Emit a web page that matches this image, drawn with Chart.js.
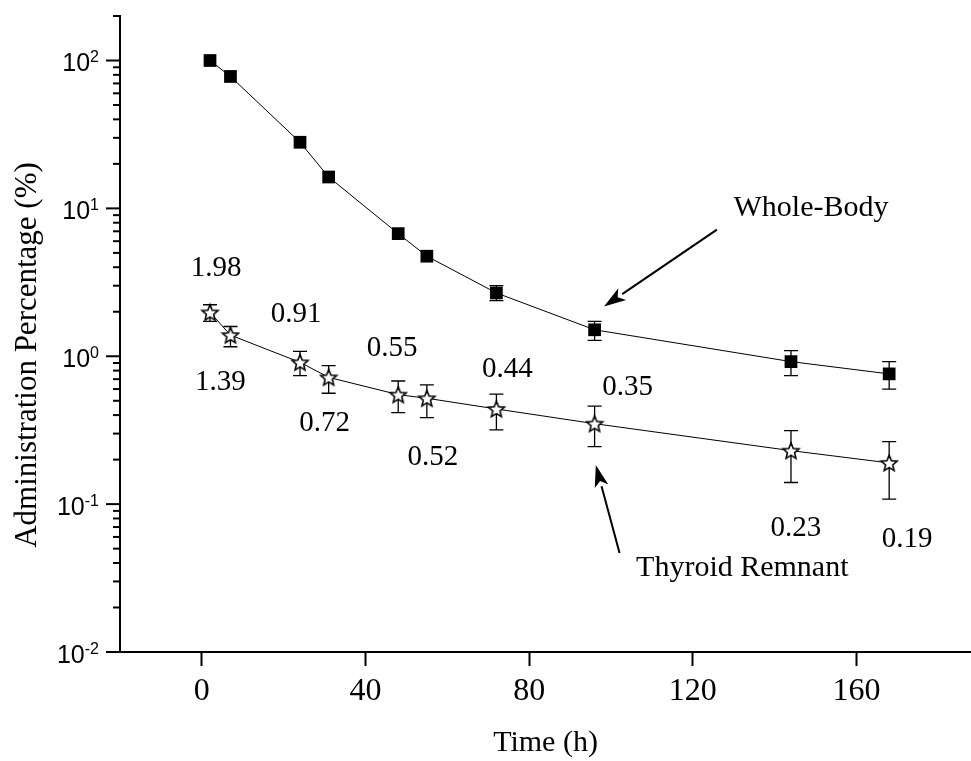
<!DOCTYPE html>
<html>
<head>
<meta charset="utf-8">
<script src="https://cdn.jsdelivr.net/npm/chart.js@4.4.0/dist/chart.umd.min.js"></script>
<style>
  html, body { margin: 0; padding: 0; background: #fff; }
  #wrap { width: 971px; height: 761px; }
</style>
</head>
<body>
<div id="wrap"><canvas id="uptakeChart" width="971" height="761"></canvas></div>
<script>
// time points (h)
var times = [2, 7, 24, 31, 48, 55, 72, 96, 144, 168];

// whole-body retention (%), with error bar ends (null = hidden under marker)
var wholeBody = [100, 78, 28, 16.3, 6.75, 4.75, 2.68, 1.51, 0.92, 0.76];
var wholeBodyUpper = [null, null, null, null, null, null, 3.0, 1.72, 1.09, 0.92];
var wholeBodyLower = [null, null, null, null, null, null, 2.38, 1.28, 0.74, 0.6];

// thyroid remnant (%), with error bar ends
var thyroid = [1.98, 1.39, 0.91, 0.72, 0.55, 0.52, 0.44, 0.35, 0.23, 0.19];
var thyroidUpper = [2.23, 1.59, 1.08, 0.865, 0.68, 0.64, 0.555, 0.46, 0.314, 0.265];
var thyroidLower = [1.72, 1.16, 0.74, 0.562, 0.416, 0.385, 0.318, 0.245, 0.14, 0.108];

var xTicks = [0, 40, 80, 120, 160];
var yDecades = [-2, -1, 0, 1, 2];

var annotations = [
  { text: 'Whole-Body', at: [148.9, 10.06], tail: [125.9, 7.18], tip: [98.3, 2.17] },
  { text: 'Thyroid Remnant', at: [132.1, 0.0369], tail: [102.1, 0.0467], tip: [96.3, 0.184] }
];

var serif = '"Liberation Serif", "Times New Roman", serif';
var sans = '"Liberation Sans", Arial, sans-serif';

function makeStar() {
  var c = document.createElement('canvas');
  c.width = 20; c.height = 20;
  var g = c.getContext('2d');
  g.beginPath();
  for (var i = 0; i < 10; i++) {
    var r = i % 2 ? 3.8 : 8.4;
    var a = -Math.PI / 2 + i * Math.PI / 5;
    g.lineTo(10 + r * Math.cos(a), 10.8 + r * Math.sin(a));
  }
  g.closePath();
  g.fillStyle = '#fff';
  g.fill();
  g.lineWidth = 1.6;
  g.lineJoin = 'miter';
  g.strokeStyle = '#000';
  g.stroke();
  return c;
}

function pairs(ys) {
  return times.map(function (t, i) { return { x: t, y: ys[i] }; });
}

var errorBars = {
  id: 'errorBars',
  beforeDatasetsDraw: function (chart) {
    var ctx = chart.ctx, y = chart.scales.y;
    var sets = [[wholeBodyUpper, wholeBodyLower], [thyroidUpper, thyroidLower]];
    ctx.save();
    ctx.strokeStyle = '#000';
    ctx.lineWidth = 1.3;
    sets.forEach(function (s, di) {
      chart.getDatasetMeta(di).data.forEach(function (pt, j) {
        if (s[0][j] == null) return;
        var top = y.getPixelForValue(s[0][j]);
        var bot = y.getPixelForValue(s[1][j]);
        ctx.beginPath();
        ctx.moveTo(pt.x, top); ctx.lineTo(pt.x, bot);
        ctx.moveTo(pt.x - 7, top); ctx.lineTo(pt.x + 7, top);
        ctx.moveTo(pt.x - 7, bot); ctx.lineTo(pt.x + 7, bot);
        ctx.stroke();
      });
    });
    ctx.restore();
  }
};

var extras = {
  id: 'extras',
  afterDraw: function (chart) {
    var ctx = chart.ctx, xs = chart.scales.x, ys = chart.scales.y;
    var left = chart.chartArea.left;
    ctx.save();
    ctx.fillStyle = '#000';
    ctx.strokeStyle = '#000';

    // y axis ticks and 10^n labels
    ctx.lineWidth = 2;
    yDecades.forEach(function (e) {
      for (var m = 1; m <= 9; m++) {
        var v = m * Math.pow(10, e);
        if (v < ys.min - 1e-9 || v > ys.max + 1e-9) continue;
        var py = ys.getPixelForValue(v);
        var len = m === 1 ? 14 : 7;
        ctx.beginPath();
        ctx.moveTo(left - len, py); ctx.lineTo(left, py);
        ctx.stroke();
      }
      var pyd = ys.getPixelForValue(Math.pow(10, e));
      ctx.font = '16px ' + sans;
      ctx.textAlign = 'right';
      ctx.textBaseline = 'alphabetic';
      var exp = String(e);
      ctx.fillText(exp, 99, pyd + 1.5);
      var ew = ctx.measureText(exp).width;
      ctx.font = '25px ' + sans;
      ctx.fillText('10', 99 - ew, pyd + 10.5);
    });

    // y axis title
    ctx.save();
    ctx.translate(28, 355);
    ctx.rotate(-Math.PI / 2);
    ctx.font = '31px ' + serif;
    ctx.textAlign = 'center';
    ctx.textBaseline = 'middle';
    ctx.fillText('Administration Percentage (%)', 0, 0);
    ctx.restore();

    // value labels beside thyroid points
    var offsets = [[6, -44], [-10, 47], [-4, -48], [-4, 46], [-6, -46], [6, 59], [11, -40], [33, -36], [5, 78], [18, 76]];
    ctx.font = '29px ' + serif;
    ctx.textAlign = 'center';
    ctx.textBaseline = 'middle';
    chart.getDatasetMeta(1).data.forEach(function (pt, j) {
      ctx.fillText(thyroid[j].toFixed(2), pt.x + offsets[j][0], pt.y + offsets[j][1]);
    });

    // annotations with arrows
    ctx.font = '30px ' + serif;
    annotations.forEach(function (a) {
      ctx.fillText(a.text, xs.getPixelForValue(a.at[0]), ys.getPixelForValue(a.at[1]));
      var x0 = xs.getPixelForValue(a.tail[0]), y0 = ys.getPixelForValue(a.tail[1]);
      var x1 = xs.getPixelForValue(a.tip[0]), y1 = ys.getPixelForValue(a.tip[1]);
      var ang = Math.atan2(y1 - y0, x1 - x0);
      var hl = 22, hw = 7;
      var bx = x1 - hl * Math.cos(ang), by = y1 - hl * Math.sin(ang);
      ctx.lineWidth = 2;
      ctx.beginPath();
      ctx.moveTo(x0, y0); ctx.lineTo(bx, by);
      ctx.stroke();
      ctx.beginPath();
      ctx.moveTo(x1, y1);
      ctx.lineTo(bx + hw * Math.sin(ang), by - hw * Math.cos(ang));
      ctx.lineTo(bx + 0.25 * hl * Math.cos(ang), by + 0.25 * hl * Math.sin(ang));
      ctx.lineTo(bx - hw * Math.sin(ang), by + hw * Math.cos(ang));
      ctx.closePath();
      ctx.fill();
    });
    ctx.restore();
  }
};

var ctx = document.getElementById('uptakeChart').getContext('2d');
var myChart = new Chart(ctx, {
  type: 'line',
  data: {
    datasets: [
      {
        label: 'Whole-Body',
        data: pairs(wholeBody),
        borderColor: '#000',
        borderWidth: 1,
        backgroundColor: '#000',
        pointStyle: 'rect',
        pointRadius: 9,
        pointBorderWidth: 0,
        tension: 0
      },
      {
        label: 'Thyroid Remnant',
        data: pairs(thyroid),
        borderColor: '#000',
        borderWidth: 1,
        pointStyle: makeStar(),
        tension: 0
      }
    ]
  },
  options: {
    responsive: false,
    animation: false,
    events: [],
    layout: { autoPadding: false, padding: { top: 16, right: 0, left: 0, bottom: 0 } },
    plugins: { legend: { display: false }, tooltip: { enabled: false } },
    scales: {
      x: {
        type: 'linear',
        min: -20,
        max: 188,
        afterBuildTicks: function (s) { s.ticks = xTicks.map(function (v) { return { value: v }; }); },
        afterFit: function (s) { s.height = 109; },
        grid: { display: true, drawOnChartArea: false, drawTicks: true, tickLength: 14, tickWidth: 2, tickColor: '#000' },
        border: { display: true, color: '#000', width: 2 },
        ticks: { color: '#000', font: { family: serif, size: 32 }, padding: 6, maxRotation: 0, autoSkip: false },
        title: { display: true, text: 'Time (h)', color: '#000', font: { family: serif, size: 30 }, padding: { top: 0, bottom: 0 } }
      },
      y: {
        type: 'logarithmic',
        min: 0.01,
        max: 200,
        afterBuildTicks: function (s) { s.ticks = yDecades.map(function (e) { return { value: Math.pow(10, e) }; }); },
        afterFit: function (s) { s.width = 120; },
        grid: { display: false, drawTicks: false },
        border: { display: true, color: '#000', width: 2 },
        ticks: { display: false }
      }
    }
  },
  plugins: [errorBars, extras]
});
</script>
</body>
</html>
